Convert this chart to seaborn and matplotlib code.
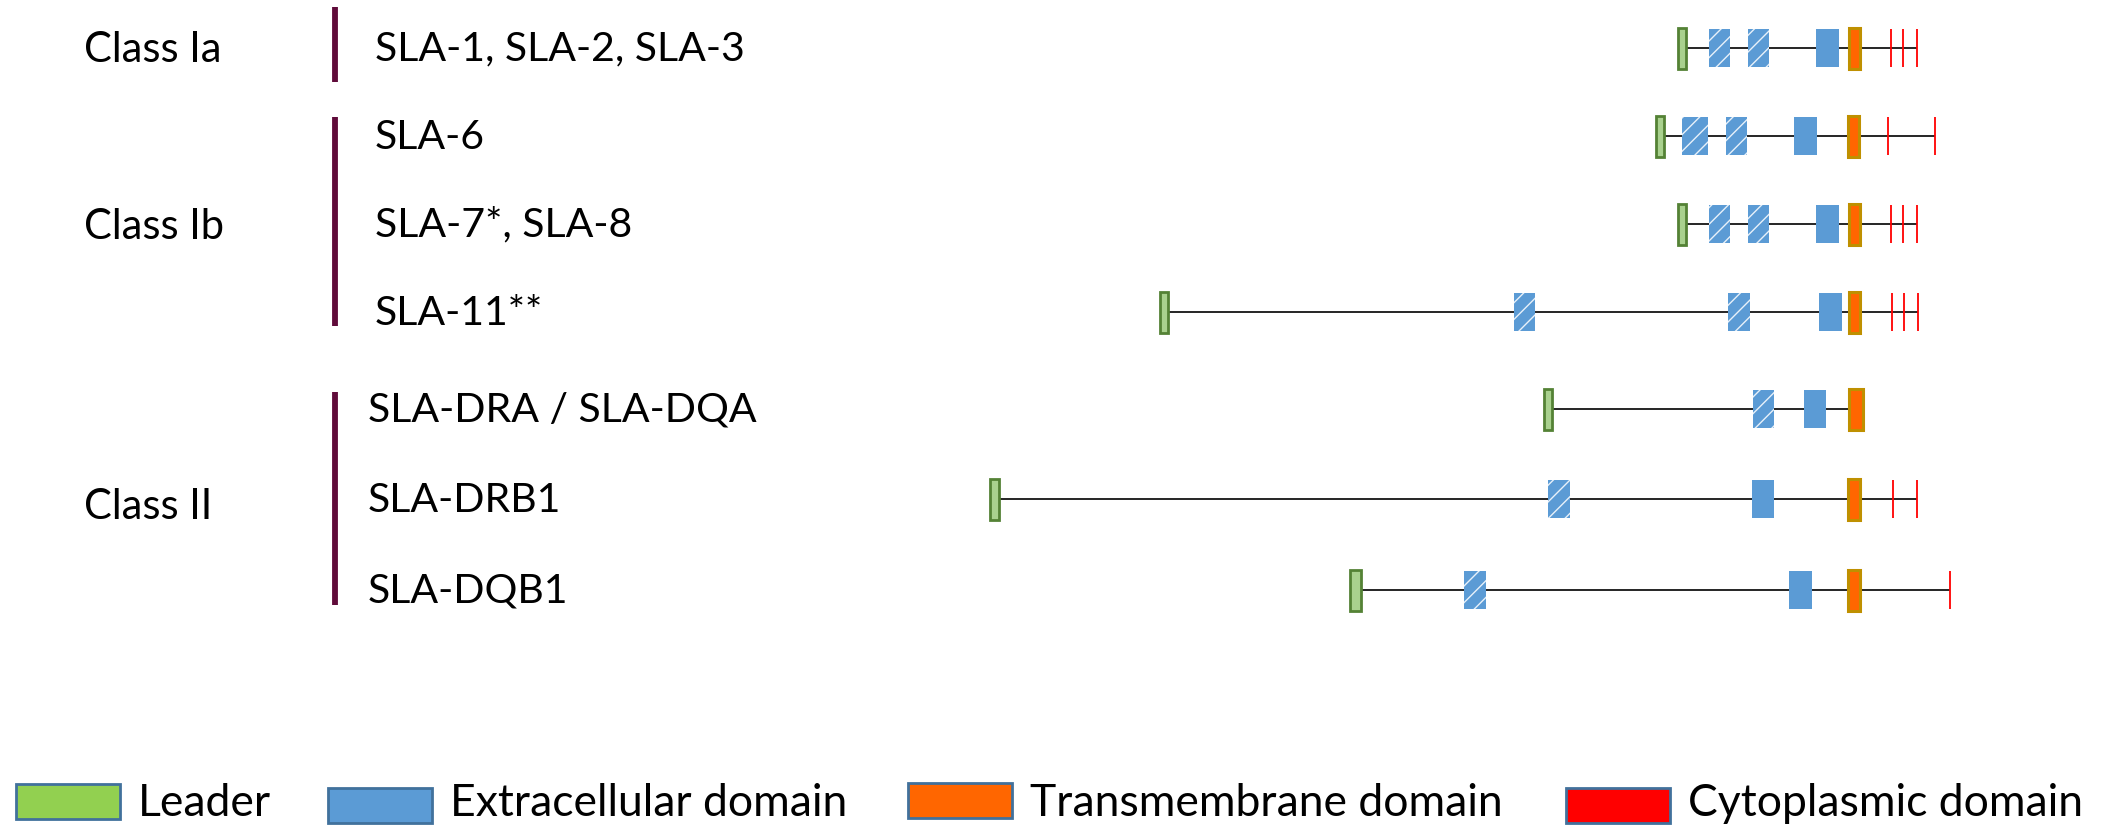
import matplotlib
matplotlib.use("Agg")

import matplotlib.pyplot as plt
import seaborn as sns

# gene rows (schematic positions in picture units)
genes = ["SLA-1, SLA-2, SLA-3", "SLA-6", "SLA-7*, SLA-8", "SLA-11**",
         "SLA-DRA / SLA-DQA", "SLA-DRB1", "SLA-DQB1"]
row_y = [49, 137, 225, 313, 410, 500, 591]

leader_start = [1678, 1656, 1678, 1160, 1544, 990, 1350]
leader_end = [1686, 1664, 1686, 1168, 1552, 999, 1361]

# extracellular exons: (start, end, hatched)
exons = [
    [(1709, 1730, True), (1748, 1769, True), (1816, 1839, False)],
    [(1682, 1708, True), (1726, 1747, True), (1794, 1817, False)],
    [(1709, 1730, True), (1748, 1769, True), (1816, 1839, False)],
    [(1514, 1535, True), (1728, 1750, True), (1819, 1842, False)],
    [(1753, 1774, True), (1804, 1826, False)],
    [(1548, 1570, True), (1752, 1774, False)],
    [(1464, 1486, True), (1789, 1812, False)],
]
tm_start = [1849, 1848, 1849, 1849, 1849, 1848, 1848]
tm_end = [1860, 1859, 1860, 1860, 1863, 1860, 1860]
cyto = [[1891, 1903, 1917], [1888, 1935], [1891, 1903, 1917],
        [1892, 1904, 1918], [], [1893, 1917], [1950]]

classes = ["Class Ia", "Class Ib", "Class II"]
class_y = [50, 227, 507]
class_top = [8, 118, 393]
class_bottom = [83, 327, 606]
gene_class = [0, 1, 1, 1, 2, 2, 2]

legend_labels = ["Leader", "Extracellular domain", "Transmembrane domain", "Cytoplasmic domain"]
legend_colors = ["#92D050", "#5B9BD5", "#FF6600", "#FF0000"]

sns.set_theme(style="white")
plt.rcParams["font.family"] = ["Lato", "DejaVu Sans"]
plt.rcParams["hatch.linewidth"] = 1.0

fig = plt.figure(figsize=(21.01, 8.29), dpi=100)
ax = fig.add_axes([0, 0, 1, 1])
ax.set_xlim(0, 2101)
ax.set_ylim(829, 0)
ax.axis("off")

EXON_H = 38
BIG_H = 41

for i, y in enumerate(row_y):
    line_end = cyto[i][-1] if cyto[i] else tm_end[i]
    ax.hlines(y, leader_start[i], line_end, color="black", lw=1.2, zorder=1)

    ax.barh(y, leader_end[i] - leader_start[i], left=leader_start[i], height=BIG_H,
            color="#A9D18E", edgecolor="#548235", linewidth=2, zorder=3)

    for s, e, hatched in exons[i]:
        ax.barh(y, e - s, left=s, height=EXON_H, color="#5B9BD5", linewidth=0, zorder=3)
        if hatched:
            ax.barh(y, e - s, left=s, height=EXON_H, color="none", edgecolor="#E8F1FA",
                    linewidth=0, hatch="//", zorder=4)

    ax.barh(y, tm_end[i] - tm_start[i], left=tm_start[i], height=BIG_H,
            color="#FF6600", edgecolor="#BF9000", linewidth=2.2, zorder=3)

    if cyto[i]:
        ax.vlines(cyto[i], y - EXON_H / 2, y + EXON_H / 2, color="#FF0000", lw=1.3, zorder=3)

    gx = 375 if gene_class[i] < 2 else 368
    ax.text(gx, y, genes[i], fontsize=29.5, ha="left", va="center", color="black")

for k, name in enumerate(classes):
    ax.text(84, class_y[k], name, fontsize=30, ha="left", va="center", color="black")
    ax.vlines(335, class_top[k], class_bottom[k], color="#600B3A", lw=4.2)

# legend row along the bottom
leg_box_x = [16, 328, 908, 1566]
leg_box_y = [802, 806, 801, 806]
for k, lab in enumerate(legend_labels):
    ax.barh(leg_box_y[k], 104, left=leg_box_x[k], height=35, color=legend_colors[k],
            edgecolor="#41719C", linewidth=2, zorder=3)
    ax.text(leg_box_x[k] + 122, 804, lab, fontsize=32, ha="left", va="center", color="black")

fig.savefig("out.png", dpi=100)
